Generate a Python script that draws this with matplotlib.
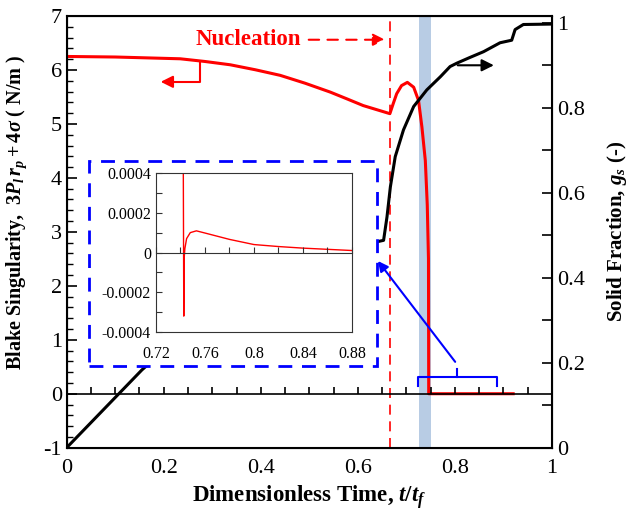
import matplotlib
matplotlib.use('Agg')
import matplotlib.pyplot as plt
from matplotlib.patches import Rectangle
from matplotlib.ticker import MultipleLocator, FixedLocator, FuncFormatter, NullFormatter

plt.rcParams['font.family'] = 'Liberation Serif'
plt.rcParams['mathtext.fontset'] = 'custom'
plt.rcParams['mathtext.rm'] = 'Liberation Serif:bold'
plt.rcParams['mathtext.it'] = 'Liberation Serif:bold:italic'
plt.rcParams['mathtext.bf'] = 'Liberation Serif:bold'
plt.rcParams['axes.unicode_minus'] = False

# Blake singularity (левая ось)
t_blake = [0, 0.1, 0.234, 0.285, 0.337, 0.389, 0.44, 0.491, 0.543, 0.577, 0.611, 0.666,
           0.673, 0.68, 0.69, 0.702, 0.715, 0.725, 0.732, 0.739, 0.743, 0.7455, 0.746, 0.92]
blake = [6.25, 6.24, 6.207, 6.157, 6.096, 6.003, 5.90, 5.755, 5.59, 5.466, 5.34, 5.19,
         5.38, 5.56, 5.71, 5.77, 5.68, 5.435, 4.94, 4.32, 3.5, 2.5, 0.0, 0.0]

# Solid fraction (правая ось)
t_gs = [0, 0.155, 0.3, 0.45, 0.625, 0.653, 0.66, 0.667, 0.677, 0.694, 0.715, 0.742,
        0.77, 0.79, 0.804, 0.83, 0.859, 0.893, 0.917, 0.924, 0.941, 1.0]
gs = [0, 0.183, 0.33, 0.42, 0.481, 0.488, 0.543, 0.614, 0.685, 0.748, 0.803, 0.842,
      0.873, 0.897, 0.905, 0.918, 0.932, 0.953, 0.959, 0.984, 0.996, 0.997]

# Вставка
t_inset = [0.7420, 0.7427, 0.7430, 0.7436, 0.745, 0.748, 0.753, 0.76, 0.77, 0.78,
           0.80, 0.82, 0.84, 0.86, 0.88]
v_inset = [0.001, -0.00032, -0.00003, 0.00002, 0.00007, 0.0001, 0.000109, 0.000098,
           0.000082, 0.000066, 0.00004, 0.00003, 0.000022, 0.000016, 0.00001]

t_nucleation = 0.666
band = (0.725, 0.750)

fig = plt.figure(figsize=(6.32, 5.16), dpi=100)
pos = [0.1055, 0.1324, 0.7679, 0.8366]
ax = fig.add_axes(pos)
ax2 = ax.twinx()

ax.axvspan(band[0], band[1], color='#b8cce4', lw=0, zorder=0)
ax.axvline(t_nucleation, color='red', ls=(0, (6, 4)), lw=1.2, zorder=1)
ax.plot(t_blake, blake, color='red', lw=2.2, zorder=3)

ax.set_xlim(0, 1)
ax.set_ylim(-1, 7)
ax.xaxis.set_major_locator(MultipleLocator(0.2))
ax.xaxis.set_major_formatter(FuncFormatter(lambda v, p: f'{v:g}'))
ax.tick_params(axis='x', length=0, pad=8, labelsize=16)
ax.yaxis.set_major_locator(MultipleLocator(1))
ax.yaxis.set_minor_locator(MultipleLocator(0.2))
ax.tick_params(axis='y', which='major', direction='in', length=7, width=1.2, labelsize=16, right=False)
ax.tick_params(axis='y', which='minor', direction='in', length=4, width=1.0, right=False)
for s in ax.spines.values():
    s.set_linewidth(1.5)

ax2.set_ylim(0, 1.016)
ax2.plot(t_gs, gs, color='black', lw=2.2, zorder=2)
ax2.yaxis.set_major_locator(FixedLocator([0, 0.2, 0.4, 0.6, 0.8, 1.0]))
ax2.yaxis.set_minor_locator(FixedLocator([0.1, 0.3, 0.5, 0.7, 0.9]))
ax2.yaxis.set_major_formatter(FuncFormatter(lambda v, p: f'{v:g}'))
ax2.tick_params(axis='y', which='major', direction='in', length=7, width=1.2, labelsize=16)
ax2.tick_params(axis='y', which='minor', direction='in', length=7, width=1.2)

ax.set_xlabel('Dimensionless Time, $t/t_f$', fontsize=16.5, fontweight='bold', labelpad=4)
ax.set_ylabel('Blake Singularity,  $3P_l\\,r_p + 4\\sigma$ ( N/m )', fontsize=14.5,
              fontweight='bold')
ax.yaxis.set_label_coords(-0.077, 0.545)
ax2.set_ylabel('Solid Fraction, $g_s$ (-)', fontsize=15, fontweight='bold')
ax2.yaxis.set_label_coords(1.11, 0.5)

# ось на нуле с рисками
zero_y = pos[1] + pos[3] * (0 - (-1)) / 8
ax0 = fig.add_axes([pos[0], zero_y, pos[2], 0.05])
ax0.set_xlim(0, 1)
ax0.patch.set_visible(False)
for k in ['top', 'left', 'right']:
    ax0.spines[k].set_visible(False)
ax0.spines['bottom'].set_linewidth(1.2)
ax0.set_yticks([])
ax0.xaxis.set_major_locator(MultipleLocator(0.05))
ax0.xaxis.set_major_formatter(NullFormatter())
ax0.tick_params(axis='x', direction='in', length=5, width=1.2)

# стрелки к осям
ax.plot([0.275, 0.275, 0.21], [6.15, 5.78, 5.78], color='red', lw=1.5, zorder=3)
ax.annotate('', xy=(0.188, 5.78), xytext=(0.22, 5.78),
            arrowprops=dict(arrowstyle='-|>', color='red', lw=1.5, mutation_scale=18))
ax2.annotate('', xy=(0.886, 0.9), xytext=(0.80, 0.9),
             arrowprops=dict(arrowstyle='-|>', color='black', lw=1.5, mutation_scale=18))

# Nucleation
ax.text(0.265, 6.56, 'Nucleation', color='red', fontsize=16.5, fontweight='bold', va='center')
ax.annotate('', xy=(0.662, 6.56), xytext=(0.493, 6.56),
            arrowprops=dict(arrowstyle='-|>', color='red', lw=1.5, ls=(0, (5, 4)),
                            mutation_scale=18))

# скобка и стрелка к вставке
ax2.plot([0.723, 0.723, 0.887, 0.887], [0.146, 0.166, 0.166, 0.146],
         color='blue', lw=1.5, zorder=6)
ax2.plot([0.804, 0.804], [0.166, 0.186], color='blue', lw=1.5, zorder=6)
ax2.annotate('', xy=(0.638, 2.5), xytext=(0.804, 0.55), xycoords=ax.transData,
             textcoords=ax.transData,
             arrowprops=dict(arrowstyle='-|>', color='blue', lw=1.5, mutation_scale=15),
             zorder=7)

rect = Rectangle((0.046, 0.51), 0.593, 3.795, transform=ax.transData, facecolor='white',
                 edgecolor='blue', lw=2, ls=(0, (5, 3.5)), zorder=5)
ax2.add_patch(rect)

# вставка
inpos = [0.2468, 0.3566, 0.3101, 0.3081]
axin = fig.add_axes(inpos, zorder=10)
axin.plot(t_inset, v_inset, color='red', lw=1.0)
axin.set_xlim(0.72, 0.88)
axin.set_ylim(-0.0004, 0.0004)
axin.xaxis.set_major_locator(FixedLocator([0.72, 0.76, 0.8, 0.84, 0.88]))
axin.xaxis.set_major_formatter(FuncFormatter(lambda v, p: f'{v:g}'))
axin.tick_params(axis='x', length=0, pad=10, labelsize=11.5)
axin.yaxis.set_major_locator(FixedLocator([-0.0004, -0.0002, 0, 0.0002, 0.0004]))
axin.yaxis.set_minor_locator(FixedLocator([-0.0003, -0.0001, 0.0001, 0.0003]))
axin.yaxis.set_major_formatter(FuncFormatter(lambda v, p: f'{v:.4f}' if v != 0 else '0'))
axin.tick_params(axis='y', which='both', direction='in', length=4, width=0.8,
                 labelsize=11.5, color='#333333')
for s in axin.spines.values():
    s.set_linewidth(0.8)
    s.set_color('#333333')

axin0 = fig.add_axes([inpos[0], inpos[1] + inpos[3] / 2, inpos[2], 0.03], zorder=11)
axin0.set_xlim(0.72, 0.88)
axin0.patch.set_visible(False)
for k in ['top', 'left', 'right']:
    axin0.spines[k].set_visible(False)
axin0.spines['bottom'].set_linewidth(0.8)
axin0.spines['bottom'].set_color('#333333')
axin0.set_yticks([])
axin0.xaxis.set_major_locator(MultipleLocator(0.02))
axin0.xaxis.set_major_formatter(NullFormatter())
axin0.tick_params(axis='x', direction='in', length=4, width=0.8, color='#333333')

plt.savefig('out.png', dpi=100)
plt.close()
